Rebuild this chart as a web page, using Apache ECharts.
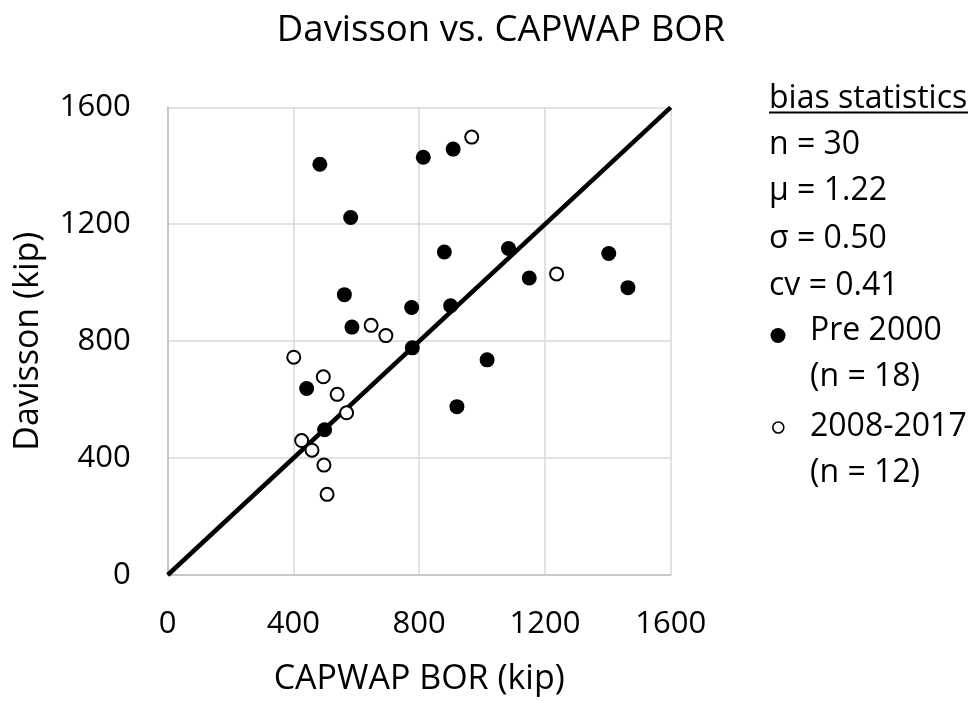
<!DOCTYPE html>
<html><head><meta charset="utf-8">
<script src="https://cdn.jsdelivr.net/npm/echarts@6/dist/echarts.min.js"></script>
<style>html,body{margin:0;padding:0;background:#fff}#c{width:978px;height:701px}</style>
</head><body><div id="c"></div>
<script>
// CAPWAP BOR (x) vs Davisson (y), kip
const pre2000X = [484, 582, 562, 776, 586, 813, 908, 880, 1084, 1150, 1403, 1464, 900, 778, 442, 499, 1016, 920];
const pre2000Y = [1405, 1223, 959, 915, 848, 1429, 1457, 1105, 1117, 1016, 1100, 983, 921, 777, 638, 497, 736, 576];
const recentX = [647, 694, 967, 1237, 401, 495, 539, 569, 426, 459, 497, 507];
const recentY = [854, 819, 1498, 1030, 745, 678, 618, 555, 460, 427, 376, 276];
const lineX = [0, 1600];
const lineY = [0, 1600];
const axisTicks = [0, 400, 800, 1200, 1600];
const statsLines = ['n = 30', '\u03bc = 1.22', '\u03c3 = 0.50', 'cv = 0.41'];
const seriesNames = ['Pre 2000', '2008-2017'];
const seriesCounts = ['(n = 18)', '(n = 12)'];

const FONT = "'Open Sans', 'Liberation Sans', sans-serif";
const pair = (xs, ys) => xs.map((x, i) => [x, ys[i]]);

const chart = echarts.init(document.getElementById('c'), null, {renderer: 'canvas'});

const LF = '32px ' + FONT;
const txt = (t, left, top) => ({type: 'text', left: left, top: top, style: {text: t, font: LF, fill: '#000'}});
const graphics = [
  txt('bias statistics', 769, 82.5),
  {type: 'line', shape: {x1: 769, y1: 112.5, x2: 968, y2: 112.5}, style: {stroke: '#000', lineWidth: 2}}
];
const statTops = [128.5, 175, 222.5, 269.5];
statsLines.forEach((t, i) => graphics.push(txt(t, 769, statTops[i])));
graphics.push({type: 'circle', shape: {cx: 778, cy: 335.5, r: 7.5}, style: {fill: '#000'}});
graphics.push(txt(seriesNames[0], 810, 314.5));
graphics.push(txt(seriesCounts[0], 810, 361));
graphics.push({type: 'circle', shape: {cx: 778.3, cy: 427.5, r: 5.5}, style: {fill: '#fff', stroke: '#000', lineWidth: 1.6}});
graphics.push(txt(seriesNames[1], 810, 411));
graphics.push(txt(seriesCounts[1], 810, 456.5));

const axisCommon = {
  type: 'value', min: axisTicks[0], max: axisTicks[axisTicks.length - 1], interval: 400,
  axisLine: {show: true, lineStyle: {color: '#bfbfbf', width: 1.5}},
  axisTick: {show: false},
  splitLine: {show: true, lineStyle: {color: '#d9d9d9', width: 1.5}},
  axisLabel: {color: '#000', fontSize: 31, fontFamily: FONT, margin: 34, formatter: v => String(v)},
  nameTextStyle: {color: '#000', fontSize: 34, fontFamily: FONT}
};

chart.setOption({
  backgroundColor: '#fff',
  animation: false,
  title: {
    text: 'Davisson vs. CAPWAP BOR', left: 496, textAlign: 'center', top: 7.5,
    textStyle: {fontSize: 36.5, fontWeight: 'normal', color: '#000', fontFamily: FONT}
  },
  grid: {left: 167.7, right: 307.3, top: 107.3, bottom: 125.3},
  xAxis: Object.assign({}, axisCommon, {
    name: 'CAPWAP BOR (kip)', nameLocation: 'middle', nameGap: 87
  }),
  yAxis: Object.assign({}, axisCommon, {
    name: 'Davisson (kip)', nameLocation: 'middle', nameGap: 122,
    axisLabel: Object.assign({}, axisCommon.axisLabel, {margin: 37})
  }),
  graphic: graphics,
  series: [
    {
      type: 'line', data: pair(lineX, lineY), symbol: 'none', silent: true,
      lineStyle: {color: '#000', width: 4.5}, z: 2
    },
    {
      name: seriesNames[0], type: 'scatter', data: pair(pre2000X, pre2000Y),
      symbol: 'circle', symbolSize: 15, itemStyle: {color: '#000', opacity: 1}, z: 3
    },
    {
      name: seriesNames[1], type: 'scatter', data: pair(recentX, recentY),
      symbol: 'circle', symbolSize: 13, itemStyle: {color: '#fff', borderColor: '#000', borderWidth: 2, opacity: 1}, z: 4
    }
  ]
});
</script>
</body></html>
